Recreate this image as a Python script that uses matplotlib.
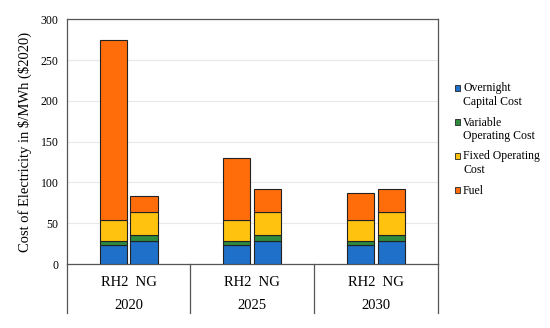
import matplotlib.pyplot as plt
from matplotlib.patches import Rectangle
import numpy as np

plt.rcParams['font.family'] = ['Liberation Serif', 'DejaVu Serif']

years = ['2020', '2025', '2030']
techs = ['RH2', 'NG']

# $/MWh, stacked bottom to top
overnight = {'RH2': [23, 23, 23], 'NG': [28.5, 28.5, 28.5]}
variable = {'RH2': [5.5, 5.5, 5.5], 'NG': [6.5, 6.5, 6.5]}
fixed = {'RH2': [26, 26, 26], 'NG': [28.5, 28.5, 28.5]}
fuel = {'RH2': [220, 76, 32.5], 'NG': [19.5, 28, 28]}

components = ['Overnight\nCapital Cost', 'Variable\nOperating Cost',
              'Fixed Operating\nCost', 'Fuel']
series = [overnight, variable, fixed, fuel]
colours = ['#1f70c8', '#2e8b3e', '#ffc20e', '#ff6d0a']

W, H = 550, 328
fig = plt.figure(figsize=(W / 100, H / 100), dpi=100)
ax = fig.add_axes([0.1213, 0.195, 0.675, 0.746])

x = np.arange(len(years))
offsets = {'RH2': -0.125, 'NG': 0.125}
width = 0.22
for t in techs:
    bottom = np.zeros(len(years))
    for s, c in zip(series, colours):
        vals = np.array(s[t])
        ax.bar(x + offsets[t], vals, width, bottom=bottom, color=c,
               edgecolor='#222222', linewidth=0.8, zorder=3)
        bottom += vals

ax.set_xlim(-0.5, 2.5)
ax.set_ylim(0, 300)
ax.set_yticks(np.arange(0, 301, 50))
ax.yaxis.grid(True, color='#e8e8e8', linewidth=0.8, zorder=0)
ax.tick_params(axis='y', length=0, labelsize=8.5, pad=6)
ax.set_xticks([])
for sp in ax.spines.values():
    sp.set_color('#555555')
    sp.set_linewidth(0.9)
ax.set_ylabel(r'Cost of Electricity in \$/MWh (\$2020)', fontsize=10.5, labelpad=6)

# category axis below the plot
sep_depth = -0.2
for xs in [-0.5, 0.5, 1.5, 2.5]:
    ax.plot([xs, xs], [0, sep_depth], transform=ax.get_xaxis_transform(),
            color='#555555', linewidth=0.9, clip_on=False)
for i, yr in enumerate(years):
    ax.text(i, -0.075, 'RH2  NG', transform=ax.get_xaxis_transform(),
            ha='center', va='center', fontsize=10.5)
    ax.text(i, -0.17, yr, transform=ax.get_xaxis_transform(),
            ha='center', va='center', fontsize=10.5)

# legend drawn by hand so the marker sits on the first text line
legend_y = [88, 122, 156, 190]
sq = 5.5
for lab, c, yp in zip(components, colours, legend_y):
    fig.add_artist(Rectangle(((457.5 - sq / 2) / W, (H - yp - sq / 2) / H), sq / W, sq / H,
                             facecolor=c, edgecolor='#222222', linewidth=0.6,
                             transform=fig.transFigure))
    fig.text(463 / W, (H - yp + 5.5) / H, lab, ha='left', va='top',
             fontsize=8.5, linespacing=1.15)

fig.savefig('out.png', dpi=100)
